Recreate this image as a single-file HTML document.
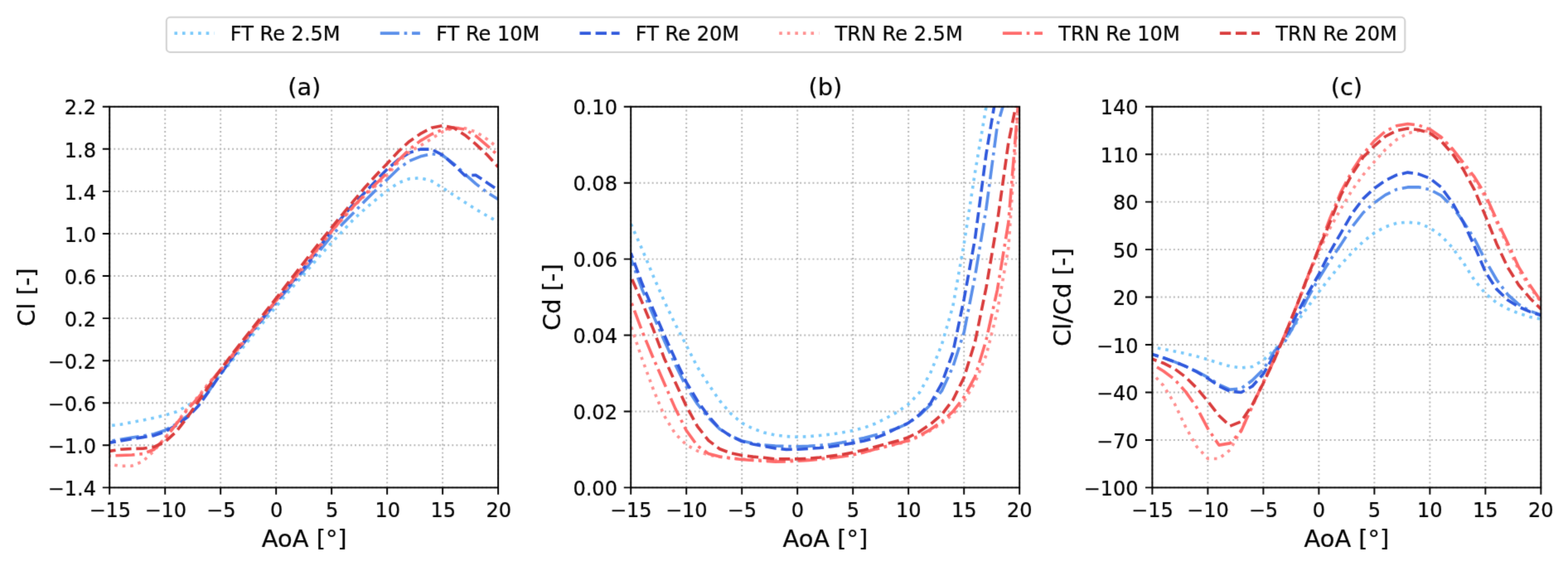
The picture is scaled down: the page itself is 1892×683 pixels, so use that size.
<!DOCTYPE html>
<html lang="en"><head><meta charset="utf-8"><title>Polars</title>
<style>html,body{margin:0;padding:0;background:#fff;}body{width:1892px;height:683px;overflow:hidden;}svg{display:block;}</style>
</head><body>
<svg width="1892" height="683" viewBox="0 0 1892 683" font-family="'DejaVu Sans', 'Liberation Sans', sans-serif">
<rect width="1892" height="683" fill="#fff"/>
<defs>
<filter id="soft" x="0" y="0" width="1892" height="683" filterUnits="userSpaceOnUse" color-interpolation-filters="sRGB"><feConvolveMatrix order="3" kernelMatrix="0.01134 0.08382 0.01134 0.08382 0.61935 0.08382 0.01134 0.08382 0.01134" divisor="1" edgeMode="duplicate" preserveAlpha="true"/></filter>
<clipPath id="c0"><rect x="132.2" y="128.75" width="468.90" height="459.65"/></clipPath>
<clipPath id="c1"><rect x="761.2" y="128.75" width="469.00" height="459.65"/></clipPath>
<clipPath id="c2"><rect x="1390.4" y="128.75" width="468.95" height="459.65"/></clipPath>
</defs>
<g filter="url(#soft)">
<rect width="1892" height="683" fill="#fff"/>
<g id="panel0">
<path d="M132.20 588.4V128.75M199.19 588.4V128.75M266.17 588.4V128.75M333.16 588.4V128.75M400.14 588.4V128.75M467.13 588.4V128.75M534.11 588.4V128.75M601.10 588.4V128.75M132.2 588.40H601.1M132.2 537.33H601.1M132.2 486.26H601.1M132.2 435.18H601.1M132.2 384.11H601.1M132.2 333.04H601.1M132.2 281.97H601.1M132.2 230.89H601.1M132.2 179.82H601.1M132.2 128.75H601.1" fill="none" stroke="#b4b4b4" stroke-width="1.92" stroke-dasharray="1.92 3.18"/>
<g clip-path="url(#c0)" fill="none" stroke-width="3.61" stroke-opacity="1.0" stroke-linejoin="round" stroke-linecap="butt">
<path d="M132.2 513.7L145.6 512.2L159.0 509.6L172.4 507.0L185.8 504.2L199.2 501.1L212.6 497.0L226.0 489.7L239.4 481.1L252.8 467.7L266.2 451.8L279.6 436.0L293.0 419.5L306.4 402.9L319.8 386.4L333.2 369.9L346.6 354.0L360.0 338.5L373.3 323.3L386.7 308.0L400.1 292.9L413.5 278.8L426.9 264.4L440.3 252.2L453.7 240.8L467.1 230.1L480.5 220.8L493.9 215.7L507.3 214.7L520.7 218.4L534.1 226.8L547.5 235.4L560.9 244.1L574.3 252.6L587.7 260.4L601.1 267.9" stroke="#7ac9fa" stroke-dasharray="3.61 5.95" stroke-dashoffset="6.56"/>
<path d="M132.2 532.2L145.6 530.3L159.0 528.1L172.4 526.0L185.8 523.7L199.2 519.2L212.6 511.8L226.0 502.0L239.4 488.8L252.8 470.7L266.2 451.1L279.6 433.0L293.0 415.4L306.4 398.4L319.8 381.7L333.2 365.3L346.6 349.5L360.0 334.2L373.3 318.5L386.7 301.3L400.1 284.5L413.5 270.1L426.9 256.6L440.3 242.4L453.7 229.3L467.1 216.8L480.5 203.7L493.9 194.2L507.3 188.8L520.7 185.6L534.1 187.5L547.5 197.6L560.9 210.0L574.3 221.9L587.7 232.1L601.1 240.5" stroke="#5a8fea" stroke-dasharray="23.10 5.77 3.61 5.77" stroke-dashoffset="25.49"/>
<path d="M132.2 534.1L145.6 531.9L159.0 529.7L172.4 527.6L185.8 525.6L199.2 520.8L212.6 513.3L226.0 503.6L239.4 489.8L252.8 471.2L266.2 451.1L279.6 432.5L293.0 414.6L306.4 397.2L319.8 380.2L333.2 363.4L346.6 347.3L360.0 331.6L373.3 315.2L386.7 296.7L400.1 278.1L413.5 261.4L426.9 245.8L440.3 232.3L453.7 218.0L467.1 204.3L480.5 192.6L493.9 184.4L507.3 180.1L520.7 180.1L534.1 187.1L547.5 198.8L560.9 211.7L574.3 211.4L587.7 220.4L601.1 229.6" stroke="#3059dc" stroke-dasharray="13.35 5.77" stroke-dashoffset="5.66"/>
<path d="M132.2 560.3L145.6 562.4L159.0 562.2L172.4 556.8L185.8 544.0L199.2 528.3L212.6 511.0L226.0 492.9L239.4 478.1L252.8 461.0L266.2 446.7L279.6 430.9L293.0 414.2L306.4 397.1L319.8 379.9L333.2 363.0L346.6 346.8L360.0 330.7L373.3 314.3L386.7 296.7L400.1 279.4L413.5 263.8L426.9 249.3L440.3 235.9L453.7 224.0L467.1 211.5L480.5 195.9L493.9 183.5L507.3 175.8L520.7 167.4L534.1 158.9L547.5 154.5L560.9 154.8L574.3 159.2L587.7 167.9L601.1 178.5" stroke="#ff9090" stroke-dasharray="3.61 5.95" stroke-dashoffset="3.45"/>
<path d="M132.2 550.1L145.6 549.5L159.0 549.0L172.4 547.6L185.8 542.5L199.2 529.1L212.6 511.8L226.0 494.3L239.4 479.6L252.8 462.3L266.2 446.0L279.6 429.5L293.0 412.8L306.4 396.0L319.8 379.2L333.2 362.4L346.6 345.7L360.0 328.9L373.3 312.2L386.7 295.4L400.1 278.9L413.5 263.4L426.9 248.6L440.3 234.7L453.7 221.8L467.1 208.6L480.5 193.5L493.9 180.4L507.3 169.9L520.7 162.0L534.1 156.5L547.5 154.0L560.9 156.1L574.3 164.2L587.7 175.7L601.1 187.5" stroke="#ff6b6b" stroke-dasharray="23.10 5.77 3.61 5.77" stroke-dashoffset="30.98"/>
<path d="M132.2 544.4L145.6 542.2L159.0 541.5L172.4 541.3L185.8 539.3L199.2 533.1L212.6 521.0L226.0 503.7L239.4 484.3L252.8 464.9L266.2 446.0L279.6 428.1L293.0 410.8L306.4 393.8L319.8 376.9L333.2 359.9L346.6 342.7L360.0 325.4L373.3 308.3L386.7 291.3L400.1 274.6L413.5 258.3L426.9 242.2L440.3 226.2L453.7 211.5L467.1 197.4L480.5 183.0L493.9 170.7L507.3 161.4L520.7 154.3L534.1 151.5L547.5 154.2L560.9 162.9L574.3 174.1L587.7 186.8L601.1 201.5" stroke="#d93c3c" stroke-dasharray="13.35 5.77" stroke-dashoffset="5.92"/>
</g>
<path d="M132.20 588.4v8.42M199.19 588.4v8.42M266.17 588.4v8.42M333.16 588.4v8.42M400.14 588.4v8.42M467.13 588.4v8.42M534.11 588.4v8.42M601.10 588.4v8.42M132.2 588.40h-8.42M132.2 537.33h-8.42M132.2 486.26h-8.42M132.2 435.18h-8.42M132.2 384.11h-8.42M132.2 333.04h-8.42M132.2 281.97h-8.42M132.2 230.89h-8.42M132.2 179.82h-8.42M132.2 128.75h-8.42" fill="none" stroke="#000" stroke-width="1.92"/>
<rect x="132.2" y="128.75" width="468.90" height="459.65" fill="none" stroke="#000" stroke-width="1.92" stroke-linejoin="miter"/>
<g font-size="24.06px" fill="#000" stroke="#000" stroke-width="0.2">
<text x="132.80" y="624.03" text-anchor="middle">−15</text>
<text x="199.79" y="624.03" text-anchor="middle">−10</text>
<text x="266.77" y="624.03" text-anchor="middle">−5</text>
<text x="333.76" y="624.03" text-anchor="middle">0</text>
<text x="400.74" y="624.03" text-anchor="middle">5</text>
<text x="467.73" y="624.03" text-anchor="middle">10</text>
<text x="534.71" y="624.03" text-anchor="middle">15</text>
<text x="601.70" y="624.03" text-anchor="middle">20</text>
<text x="115.96" y="598.14" text-anchor="end">−1.4</text>
<text x="115.96" y="547.07" text-anchor="end">−1.0</text>
<text x="115.96" y="496.00" text-anchor="end">−0.6</text>
<text x="115.96" y="444.93" text-anchor="end">−0.2</text>
<text x="115.96" y="393.85" text-anchor="end">0.2</text>
<text x="115.96" y="342.78" text-anchor="end">0.6</text>
<text x="115.96" y="291.71" text-anchor="end">1.0</text>
<text x="115.96" y="240.64" text-anchor="end">1.4</text>
<text x="115.96" y="189.57" text-anchor="end">1.8</text>
<text x="115.96" y="138.49" text-anchor="end">2.2</text>
</g>
<g font-size="28.87px" fill="#000" stroke="#000" stroke-width="0.2">
<text x="367.25" y="659.5" text-anchor="middle">AoA [°]</text>
<text x="367.25" y="114.71" text-anchor="middle">(a)</text>
<text transform="translate(42.0 358.57) rotate(-90)" text-anchor="middle">Cl [-]</text>
</g>
</g>
<g id="panel1">
<path d="M761.20 588.4V128.75M828.20 588.4V128.75M895.20 588.4V128.75M962.20 588.4V128.75M1029.20 588.4V128.75M1096.20 588.4V128.75M1163.20 588.4V128.75M1230.20 588.4V128.75M761.2 588.40H1230.2M761.2 496.47H1230.2M761.2 404.54H1230.2M761.2 312.61H1230.2M761.2 220.68H1230.2M761.2 128.75H1230.2" fill="none" stroke="#b4b4b4" stroke-width="1.92" stroke-dasharray="1.92 3.18"/>
<g clip-path="url(#c1)" fill="none" stroke-width="3.61" stroke-opacity="1.0" stroke-linejoin="round" stroke-linecap="butt">
<path d="M761.2 270.3L774.6 300.3L788.0 332.5L801.4 363.2L814.8 391.2L828.2 416.8L841.6 443.1L855.0 464.0L868.4 483.5L881.8 499.1L895.2 510.4L908.6 517.3L922.0 522.0L935.4 524.9L948.8 526.6L962.2 527.3L975.6 526.7L989.0 525.5L1002.4 524.1L1015.8 522.1L1029.2 519.5L1042.6 516.2L1056.0 511.2L1069.4 504.6L1082.8 497.1L1096.2 487.7L1109.6 473.6L1123.0 449.4L1136.4 415.7L1149.8 369.6L1163.2 294.5L1176.6 207.5L1190.0 128.5L1203.4 105.8L1216.8 105.8L1230.2 105.8" stroke="#7ac9fa" stroke-dasharray="3.61 5.95" stroke-dashoffset="9.56"/>
<path d="M761.2 312.2L774.6 348.7L788.0 380.1L801.4 410.8L814.8 440.0L828.2 466.9L841.6 487.7L855.0 504.3L868.4 517.7L881.8 526.0L895.2 531.9L908.6 535.0L922.0 537.0L935.4 538.0L948.8 538.5L962.2 538.8L975.6 538.4L989.0 537.4L1002.4 536.2L1015.8 534.1L1029.2 531.4L1042.6 528.5L1056.0 525.0L1069.4 521.1L1082.8 516.6L1096.2 510.7L1109.6 501.1L1123.0 488.3L1136.4 471.7L1149.8 442.6L1163.2 401.1L1176.6 332.9L1190.0 251.7L1203.4 151.2L1216.8 105.8L1230.2 105.8" stroke="#5a8fea" stroke-dasharray="23.10 5.77 3.61 5.77" stroke-dashoffset="14.13"/>
<path d="M761.2 305.3L774.6 341.8L788.0 373.2L801.4 404.0L814.8 433.6L828.2 461.4L841.6 483.8L855.0 502.3L868.4 517.4L881.8 526.3L895.2 532.6L908.6 535.9L922.0 538.4L935.4 541.0L948.8 542.4L962.2 542.2L975.6 541.4L989.0 540.5L1002.4 539.0L1015.8 537.0L1029.2 534.6L1042.6 532.0L1056.0 528.7L1069.4 523.3L1082.8 516.5L1096.2 510.3L1109.6 500.1L1123.0 486.4L1136.4 462.6L1149.8 425.3L1163.2 361.0L1176.6 287.6L1190.0 185.6L1203.4 105.8L1216.8 105.8L1230.2 105.8" stroke="#3059dc" stroke-dasharray="13.35 5.77" stroke-dashoffset="6.89"/>
<path d="M761.2 393.0L774.6 432.7L788.0 469.0L801.4 501.6L814.8 523.4L828.2 536.8L841.6 544.1L855.0 549.0L868.4 551.3L881.8 552.8L895.2 554.0L908.6 554.9L922.0 555.3L935.4 555.3L948.8 555.3L962.2 555.3L975.6 554.8L989.0 553.6L1002.4 552.3L1015.8 550.6L1029.2 548.4L1042.6 545.6L1056.0 542.2L1069.4 539.0L1082.8 536.0L1096.2 532.3L1109.6 526.7L1123.0 519.5L1136.4 510.9L1149.8 499.8L1163.2 484.2L1176.6 461.4L1190.0 428.5L1203.4 375.8L1216.8 299.2L1230.2 105.8" stroke="#ff9090" stroke-dasharray="3.61 5.95" stroke-dashoffset="7.86"/>
<path d="M761.2 363.2L774.6 399.1L788.0 431.5L801.4 462.2L814.8 492.9L828.2 519.5L841.6 538.0L855.0 547.6L868.4 551.0L881.8 553.0L895.2 554.5L908.6 555.5L922.0 556.4L935.4 557.1L948.8 556.8L962.2 556.2L975.6 555.4L989.0 554.1L1002.4 552.7L1015.8 551.0L1029.2 548.9L1042.6 545.8L1056.0 542.0L1069.4 538.4L1082.8 535.3L1096.2 531.4L1109.6 525.6L1123.0 518.1L1136.4 508.7L1149.8 496.6L1163.2 479.2L1176.6 454.3L1190.0 410.3L1203.4 349.8L1216.8 268.6L1230.2 105.8" stroke="#ff6b6b" stroke-dasharray="23.10 5.77 3.61 5.77" stroke-dashoffset="26.04"/>
<path d="M761.2 333.8L774.6 364.4L788.0 396.6L801.4 432.2L814.8 461.2L828.2 490.3L841.6 514.7L855.0 531.6L868.4 541.7L881.8 546.8L895.2 549.5L908.6 551.1L922.0 552.3L935.4 553.9L948.8 553.9L962.2 553.9L975.6 553.3L989.0 552.0L1002.4 550.4L1015.8 548.5L1029.2 546.1L1042.6 543.0L1056.0 539.3L1069.4 535.6L1082.8 532.1L1096.2 527.7L1109.6 520.8L1123.0 511.7L1136.4 500.2L1149.8 482.7L1163.2 455.6L1176.6 412.2L1190.0 346.9L1203.4 268.0L1216.8 172.5L1230.2 105.8" stroke="#d93c3c" stroke-dasharray="13.35 5.77" stroke-dashoffset="15.59"/>
</g>
<path d="M761.20 588.4v8.42M828.20 588.4v8.42M895.20 588.4v8.42M962.20 588.4v8.42M1029.20 588.4v8.42M1096.20 588.4v8.42M1163.20 588.4v8.42M1230.20 588.4v8.42M761.2 588.40h-8.42M761.2 496.47h-8.42M761.2 404.54h-8.42M761.2 312.61h-8.42M761.2 220.68h-8.42M761.2 128.75h-8.42" fill="none" stroke="#000" stroke-width="1.92"/>
<rect x="761.2" y="128.75" width="469.00" height="459.65" fill="none" stroke="#000" stroke-width="1.92" stroke-linejoin="miter"/>
<g font-size="24.06px" fill="#000" stroke="#000" stroke-width="0.2">
<text x="761.30" y="624.03" text-anchor="middle">−15</text>
<text x="828.30" y="624.03" text-anchor="middle">−10</text>
<text x="895.30" y="624.03" text-anchor="middle">−5</text>
<text x="962.30" y="624.03" text-anchor="middle">0</text>
<text x="1029.30" y="624.03" text-anchor="middle">5</text>
<text x="1096.30" y="624.03" text-anchor="middle">10</text>
<text x="1163.30" y="624.03" text-anchor="middle">15</text>
<text x="1230.30" y="624.03" text-anchor="middle">20</text>
<text x="744.96" y="598.14" text-anchor="end">0.00</text>
<text x="744.96" y="506.21" text-anchor="end">0.02</text>
<text x="744.96" y="414.28" text-anchor="end">0.04</text>
<text x="744.96" y="322.35" text-anchor="end">0.06</text>
<text x="744.96" y="230.42" text-anchor="end">0.08</text>
<text x="744.96" y="138.49" text-anchor="end">0.10</text>
</g>
<g font-size="28.87px" fill="#000" stroke="#000" stroke-width="0.2">
<text x="995.80" y="659.5" text-anchor="middle">AoA [°]</text>
<text x="995.80" y="114.71" text-anchor="middle">(b)</text>
<text transform="translate(676.0 358.57) rotate(-90)" text-anchor="middle">Cd [-]</text>
</g>
</g>
<g id="panel2">
<path d="M1390.40 588.4V128.75M1457.39 588.4V128.75M1524.39 588.4V128.75M1591.38 588.4V128.75M1658.37 588.4V128.75M1725.36 588.4V128.75M1792.36 588.4V128.75M1859.35 588.4V128.75M1390.4 588.40H1859.35M1390.4 530.94H1859.35M1390.4 473.49H1859.35M1390.4 416.03H1859.35M1390.4 358.57H1859.35M1390.4 301.12H1859.35M1390.4 243.66H1859.35M1390.4 186.21H1859.35M1390.4 128.75H1859.35" fill="none" stroke="#b4b4b4" stroke-width="1.92" stroke-dasharray="1.92 3.18"/>
<g clip-path="url(#c2)" fill="none" stroke-width="3.61" stroke-opacity="1.0" stroke-linejoin="round" stroke-linecap="butt">
<path d="M1390.4 418.9L1403.8 421.3L1417.2 423.9L1430.6 426.8L1444.0 430.0L1457.4 433.8L1470.8 438.3L1484.2 442.0L1497.6 443.9L1511.0 442.5L1524.4 434.6L1537.8 421.7L1551.2 409.6L1564.6 389.2L1578.0 370.5L1591.4 352.3L1604.8 334.9L1618.2 318.9L1631.6 304.7L1645.0 291.5L1658.4 281.0L1671.8 273.7L1685.2 269.3L1698.6 268.2L1712.0 269.4L1725.4 274.9L1738.8 284.2L1752.2 298.5L1765.6 316.7L1779.0 337.9L1792.4 354.3L1805.8 365.2L1819.2 372.7L1832.6 378.1L1846.0 382.4L1859.3 385.0" stroke="#7ac9fa" stroke-dasharray="3.61 5.95" stroke-dashoffset="3.02"/>
<path d="M1390.4 427.5L1403.8 431.8L1417.2 436.6L1430.6 442.1L1444.0 448.2L1457.4 455.3L1470.8 464.2L1484.2 470.1L1497.6 468.8L1511.0 459.0L1524.4 445.8L1537.8 423.6L1551.2 410.9L1564.6 386.6L1578.0 359.3L1591.4 336.0L1604.8 314.2L1618.2 294.9L1631.6 273.7L1645.0 256.5L1658.4 244.6L1671.8 235.1L1685.2 228.6L1698.6 225.9L1712.0 225.8L1725.4 228.8L1738.8 235.9L1752.2 248.9L1765.6 267.3L1779.0 288.0L1792.4 314.4L1805.8 337.5L1819.2 355.3L1832.6 367.4L1846.0 375.2L1859.3 380.0" stroke="#5a8fea" stroke-dasharray="23.10 5.77 3.61 5.77" stroke-dashoffset="25.33"/>
<path d="M1390.4 427.5L1403.8 431.8L1417.2 436.6L1430.6 442.0L1444.0 448.7L1457.4 456.6L1470.8 465.8L1484.2 472.2L1497.6 473.5L1511.0 466.2L1524.4 451.1L1537.8 428.2L1551.2 405.3L1564.6 379.3L1578.0 354.3L1591.4 331.0L1604.8 304.1L1618.2 280.8L1631.6 257.5L1645.0 239.6L1658.4 227.2L1671.8 217.7L1685.2 211.2L1698.6 208.1L1712.0 210.1L1725.4 215.2L1738.8 225.8L1752.2 244.1L1765.6 268.0L1779.0 296.7L1792.4 328.1L1805.8 348.9L1819.2 362.0L1832.6 370.3L1846.0 376.1L1859.3 380.6" stroke="#3059dc" stroke-dasharray="13.35 5.77" stroke-dashoffset="5.46"/>
<path d="M1390.4 450.5L1403.8 465.3L1417.2 486.9L1430.6 515.2L1444.0 538.9L1457.4 553.4L1470.8 553.5L1484.2 542.9L1497.6 518.9L1511.0 490.7L1524.4 461.5L1537.8 433.5L1551.2 402.0L1564.6 369.5L1578.0 335.9L1591.4 303.0L1604.8 275.3L1618.2 251.6L1631.6 229.2L1645.0 210.8L1658.4 195.1L1671.8 180.3L1685.2 168.5L1698.6 160.8L1712.0 157.6L1725.4 158.4L1738.8 166.9L1752.2 181.0L1765.6 198.7L1779.0 217.5L1792.4 237.9L1805.8 267.8L1819.2 297.3L1832.6 325.7L1846.0 346.6L1859.3 364.3" stroke="#ff9090" stroke-dasharray="3.61 5.95" stroke-dashoffset="2.67"/>
<path d="M1390.4 439.6L1403.8 447.8L1417.2 457.8L1430.6 472.6L1444.0 491.7L1457.4 517.2L1470.8 537.1L1484.2 534.9L1497.6 520.3L1511.0 490.0L1524.4 461.0L1537.8 433.5L1551.2 402.0L1564.6 369.1L1578.0 333.6L1591.4 299.2L1604.8 263.5L1618.2 231.3L1631.6 206.1L1645.0 185.6L1658.4 169.9L1671.8 158.3L1685.2 151.8L1698.6 149.5L1712.0 151.2L1725.4 156.1L1738.8 165.3L1752.2 179.2L1765.6 196.1L1779.0 213.4L1792.4 235.2L1805.8 265.1L1819.2 293.1L1832.6 322.5L1846.0 343.9L1859.3 363.4" stroke="#ff6b6b" stroke-dasharray="23.10 5.77 3.61 5.77" stroke-dashoffset="31.68"/>
<path d="M1390.4 433.3L1403.8 438.2L1417.2 445.0L1430.6 455.0L1444.0 468.3L1457.4 484.2L1470.8 501.5L1484.2 514.1L1497.6 508.8L1511.0 488.6L1524.4 462.2L1537.8 433.8L1551.2 402.0L1564.6 369.1L1578.0 333.5L1591.4 300.0L1604.8 268.2L1618.2 234.9L1631.6 209.9L1645.0 189.6L1658.4 176.1L1671.8 164.5L1685.2 157.7L1698.6 155.0L1712.0 156.8L1725.4 160.7L1738.8 170.1L1752.2 185.1L1765.6 204.4L1779.0 228.8L1792.4 260.6L1805.8 293.9L1819.2 322.5L1832.6 344.0L1846.0 359.7L1859.3 372.9" stroke="#d93c3c" stroke-dasharray="13.35 5.77" stroke-dashoffset="7.83"/>
</g>
<path d="M1390.40 588.4v8.42M1457.39 588.4v8.42M1524.39 588.4v8.42M1591.38 588.4v8.42M1658.37 588.4v8.42M1725.36 588.4v8.42M1792.36 588.4v8.42M1859.35 588.4v8.42M1390.4 588.40h-8.42M1390.4 530.94h-8.42M1390.4 473.49h-8.42M1390.4 416.03h-8.42M1390.4 358.57h-8.42M1390.4 301.12h-8.42M1390.4 243.66h-8.42M1390.4 186.21h-8.42M1390.4 128.75h-8.42" fill="none" stroke="#000" stroke-width="1.92"/>
<rect x="1390.4" y="128.75" width="468.95" height="459.65" fill="none" stroke="#000" stroke-width="1.92" stroke-linejoin="miter"/>
<g font-size="24.06px" fill="#000" stroke="#000" stroke-width="0.2">
<text x="1390.40" y="624.03" text-anchor="middle">−15</text>
<text x="1457.39" y="624.03" text-anchor="middle">−10</text>
<text x="1524.39" y="624.03" text-anchor="middle">−5</text>
<text x="1591.38" y="624.03" text-anchor="middle">0</text>
<text x="1658.37" y="624.03" text-anchor="middle">5</text>
<text x="1725.36" y="624.03" text-anchor="middle">10</text>
<text x="1792.36" y="624.03" text-anchor="middle">15</text>
<text x="1859.35" y="624.03" text-anchor="middle">20</text>
<text x="1373.66" y="598.14" text-anchor="end">−100</text>
<text x="1373.66" y="540.69" text-anchor="end">−70</text>
<text x="1373.66" y="483.23" text-anchor="end">−40</text>
<text x="1373.66" y="425.77" text-anchor="end">−10</text>
<text x="1373.66" y="368.32" text-anchor="end">20</text>
<text x="1373.66" y="310.86" text-anchor="end">50</text>
<text x="1373.66" y="253.41" text-anchor="end">80</text>
<text x="1373.66" y="195.95" text-anchor="end">110</text>
<text x="1373.66" y="138.49" text-anchor="end">140</text>
</g>
<g font-size="28.87px" fill="#000" stroke="#000" stroke-width="0.2">
<text x="1624.88" y="659.5" text-anchor="middle">AoA [°]</text>
<text x="1624.88" y="114.71" text-anchor="middle">(c)</text>
<text transform="translate(1292.2 358.57) rotate(-90)" text-anchor="middle">Cl/Cd [-]</text>
</g>
</g>
<g id="legend">
<rect x="200.8" y="20.8" width="1494.50" height="42.20" rx="4.81" fill="#fff" fill-opacity="0.8" stroke="#d2d2d2" stroke-width="2.1"/>
<path d="M210.42 40.1h48.12" fill="none" stroke="#7ac9fa" stroke-opacity="1.0" stroke-width="3.61" stroke-dasharray="3.61 5.95"/>
<text x="277.79" y="49.2" font-size="24.06px" fill="#000" stroke="#000" stroke-width="0.2">FT Re 2.5M</text>
<path d="M458.78 40.1h48.12" fill="none" stroke="#5a8fea" stroke-opacity="1.0" stroke-width="3.61" stroke-dasharray="23.10 5.77 3.61 5.77"/>
<text x="526.15" y="49.2" font-size="24.06px" fill="#000" stroke="#000" stroke-width="0.2">FT Re 10M</text>
<path d="M699.49 40.1h48.12" fill="none" stroke="#3059dc" stroke-opacity="1.0" stroke-width="3.61" stroke-dasharray="13.35 5.77"/>
<text x="766.86" y="49.2" font-size="24.06px" fill="#000" stroke="#000" stroke-width="0.2">FT Re 20M</text>
<path d="M940.21 40.1h48.12" fill="none" stroke="#ff9090" stroke-opacity="1.0" stroke-width="3.61" stroke-dasharray="3.61 5.95"/>
<text x="1007.57" y="49.2" font-size="24.06px" fill="#000" stroke="#000" stroke-width="0.2">TRN Re 2.5M</text>
<path d="M1209.86 40.1h48.12" fill="none" stroke="#ff6b6b" stroke-opacity="1.0" stroke-width="3.61" stroke-dasharray="23.10 5.77 3.61 5.77"/>
<text x="1277.23" y="49.2" font-size="24.06px" fill="#000" stroke="#000" stroke-width="0.2">TRN Re 10M</text>
<path d="M1471.87 40.1h48.12" fill="none" stroke="#d93c3c" stroke-opacity="1.0" stroke-width="3.61" stroke-dasharray="13.35 5.77"/>
<text x="1539.24" y="49.2" font-size="24.06px" fill="#000" stroke="#000" stroke-width="0.2">TRN Re 20M</text>
</g>
</g>
</svg>
</body></html>
